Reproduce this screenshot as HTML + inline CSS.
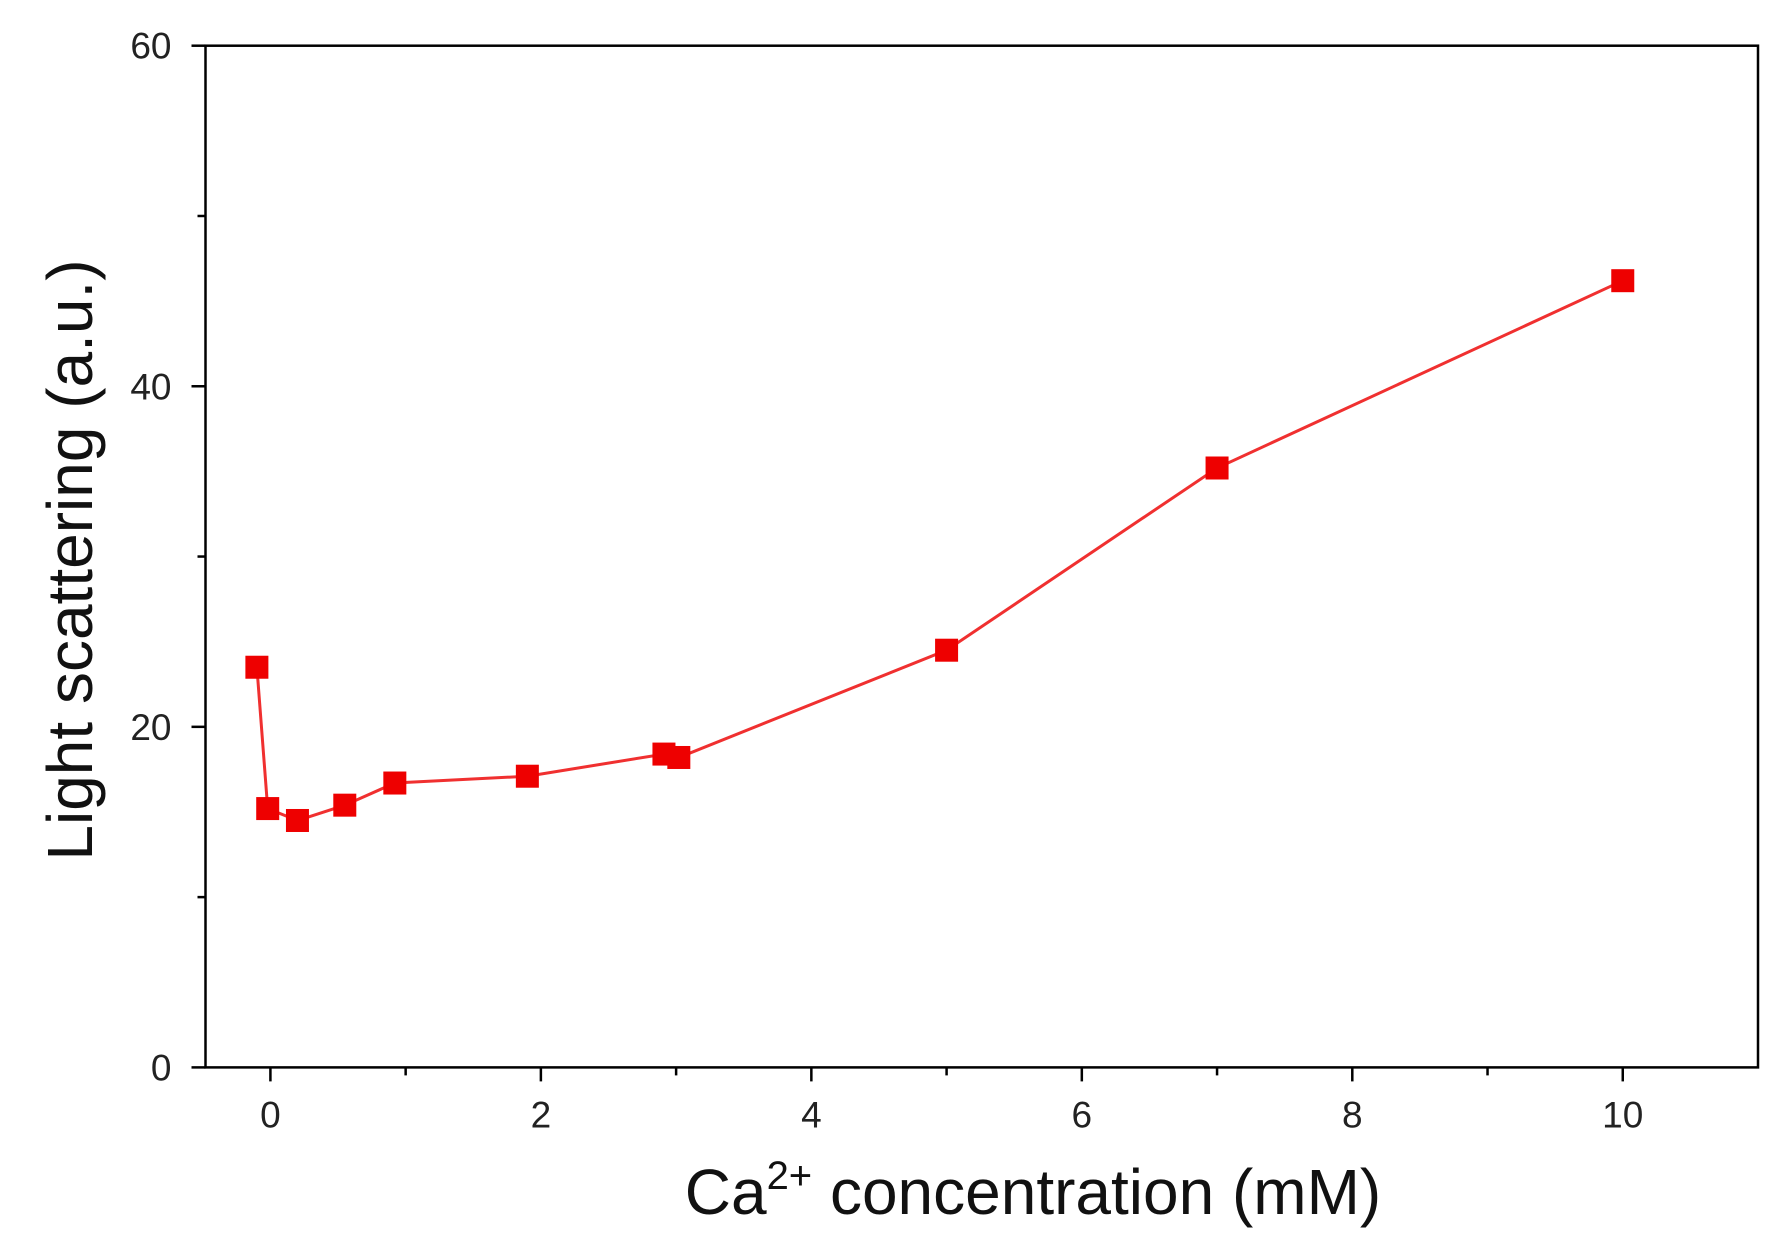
<!DOCTYPE html>
<html><head><meta charset="utf-8"><style>
html,body{margin:0;padding:0;background:#fff;}
svg{display:block;font-family:"Liberation Sans",Arial,sans-serif;}
</style></head><body>
<svg id="chart" width="1790" height="1248" viewBox="0 0 1790 1248" xmlns="http://www.w3.org/2000/svg"></svg>
<script>
const xValues = [-0.1, -0.02, 0.2, 0.55, 0.92, 1.9, 2.91, 3.02, 5.0, 7.0, 10.0];
const yValues = [23.5, 15.2, 14.5, 15.4, 16.7, 17.1, 18.4, 18.2, 24.5, 35.2, 46.2];
const xTickLabels = [0, 2, 4, 6, 8, 10];
const xMinorTicks = [1, 3, 5, 7, 9];
const yTickLabels = [0, 20, 40, 60];
const yMinorTicks = [10, 30, 50];

const NS = "http://www.w3.org/2000/svg";
const svg = document.getElementById('chart');
const L = 205.5, R = 1758, T = 45.7, B = 1067.4;
const xMin = -0.48, xMax = 11.0, yMin = 0, yMax = 60;
function xs(v){ return L + (v - xMin) / (xMax - xMin) * (R - L); }
function ys(v){ return B - (v - yMin) / (yMax - yMin) * (B - T); }
function mk(tag, attrs){ const e = document.createElementNS(NS, tag); for (const k in attrs) e.setAttribute(k, attrs[k]); svg.appendChild(e); return e; }

let frame = mk('rect', {x:L, y:T, width:R-L, height:B-T, fill:'none', stroke:'#000', 'stroke-width':2.5});



xTickLabels.forEach(v => {
  const t = mk('line', {x1:xs(v), x2:xs(v), y1:B, y2:B+14, stroke:'#000', 'stroke-width':2.5});
  
  
  const tx = mk('text', {x:xs(v), y:B+60, 'font-size':37, 'text-anchor':'middle', fill:'#222'});
  tx.textContent = v;
  
  
});
xMinorTicks.forEach(v => {
  const t = mk('line', {x1:xs(v), x2:xs(v), y1:B, y2:B+8, stroke:'#000', 'stroke-width':2.5});
  
  
});
yTickLabels.forEach(v => {
  const t = mk('line', {x1:L-14, x2:L, y1:ys(v), y2:ys(v), stroke:'#000', 'stroke-width':2.5});
  
  
  const tx = mk('text', {x:L-34, y:ys(v)+13, 'font-size':37, 'text-anchor':'end', fill:'#222'});
  tx.textContent = v;
  
  
});
yMinorTicks.forEach(v => {
  const t = mk('line', {x1:L-8, x2:L, y1:ys(v), y2:ys(v), stroke:'#000', 'stroke-width':2.5});
  
  
});

const pts = xValues.map((x,i) => xs(x).toFixed(1) + ',' + ys(yValues[i]).toFixed(1)).join(' ');
const line = mk('polyline', {points:pts, fill:'none', stroke:'#f03030', 'stroke-width':3});


xValues.forEach((x,i) => {
  const s = 23;
  const m = mk('rect', {x:xs(x)-s/2, y:ys(yValues[i])-s/2, width:s, height:s, fill:'#ee0000'});
  
  
});

const xt = mk('text', {x:1033, y:1214, 'font-size':64, 'text-anchor':'middle', fill:'#111'});
xt.innerHTML = 'Ca<tspan dy="-25" font-size="40">2+</tspan><tspan dy="25"> concentration  (mM)</tspan>';


const yt = mk('text', {x:0, y:0, 'font-size':64, 'text-anchor':'middle', fill:'#111', transform:'translate(92,560) rotate(-90)'});
yt.textContent = 'Light  scattering  (a.u.)';


</script>
</body></html>
